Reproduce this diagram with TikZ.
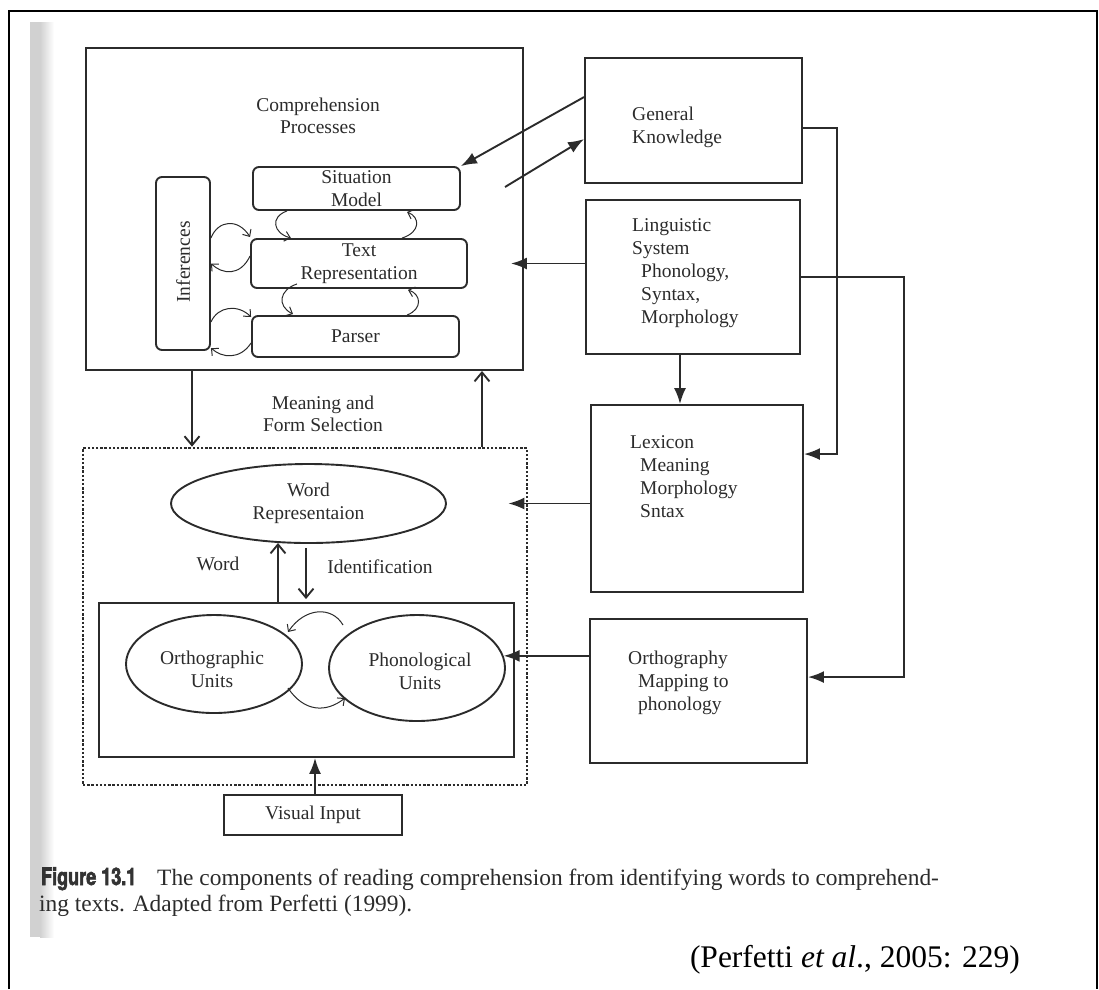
\documentclass[tikz,border=0pt]{standalone}
\usepackage{fontspec}
\setmainfont{Liberation Serif}
\newfontfamily\figfont[FakeStretch=0.75,FakeBold=2.5]{TeX Gyre Heros}
\usetikzlibrary{arrows.meta,calc,shapes.geometric}
\definecolor{ink}{HTML}{2B2B2B}
\tikzset{
  dfont/.style={font=\fontsize{19.5}{22.5}\selectfont},
  box/.style={draw=ink, line width=1.9pt, rectangle, inner sep=0pt, text=ink, dfont, align=center},
  rbox/.style={box, rounded corners=6pt},
  ell/.style={draw=ink, line width=1.9pt, ellipse, inner sep=0pt, text=ink, dfont, align=center},
  lbl/.style={inner sep=0pt, text=ink, dfont, align=center},
  llbl/.style={inner sep=0pt, text=ink, font=\fontsize{19.5}{23}\selectfont, align=left, anchor=west},
  dotbox/.style={draw=ink, line width=2.7pt, dash pattern=on 2.4pt off 1.8pt, rectangle, inner sep=0pt},
  fa/.style={draw=ink, line width=1.9pt, -{Latex[length=16pt,width=12pt]}},
  oa/.style={draw=ink, line width=1.9pt, -{Straight Barb[length=9pt,width=15pt]}},
  ca/.style={draw=ink, line width=1pt, -{Straight Barb[length=5.5pt,width=10pt]}},
}
\begin{document}
\begin{tikzpicture}[x=1pt,y=-1pt]
\useasboundingbox (0,0) rectangle (1099,989);
% page frame and scan strip
\fill[black!18] (30,22) rectangle (40,937);
\shade[left color=black!18, right color=white] (40,22) rectangle (54,937);
\draw[line width=1.5pt] (9,989) -- (9,11) -- (1097,11) -- (1097,989);

% comprehension block
\node[box, minimum width=437pt, minimum height=322pt] (comp) at (304.5,209) {};
\node[lbl] (comptitle) at (318,116) {Comprehension\\Processes};
\node[rbox, minimum width=207pt, minimum height=43pt] (sit) at (356.5,188.5) {Situation\\Model};
\node[rbox, minimum width=216pt, minimum height=49pt] (txt) at (359,263.5) {Text\\Representation};
\node[rbox, minimum width=207pt, minimum height=41pt] (par) at (355.5,336.5) {Parser};
\node[rbox, minimum width=54pt, minimum height=173pt] (inf) at (183,263.5) {};
\node[lbl, rotate=90] (inflbl) at (183,262) {Inferences};

% right-hand boxes
\node[box, minimum width=217pt, minimum height=125pt] (gk) at (693.5,120.5) {};
\node[llbl] (gklbl) at (632,127.5) {General\\Knowledge};
\node[box, minimum width=214pt, minimum height=154pt] (ling) at (693,277) {};
\node[llbl] (linglbl) at (632,273) {Linguistic\\System\\\hspace*{9pt}Phonology,\\\hspace*{9pt}Syntax,\\\hspace*{9pt}Morphology};
\node[box, minimum width=212pt, minimum height=187pt] (lex) at (697,498.5) {};
\node[llbl] (lexlbl) at (630,476.5) {Lexicon\\\hspace*{10pt}Meaning\\\hspace*{10pt}Morphology\\\hspace*{10pt}Sntax};
\node[box, minimum width=217pt, minimum height=144pt] (orth) at (698.5,691) {};
\node[llbl] (orthlbl) at (628,683) {Orthography\\\hspace*{10pt}Mapping to\\\hspace*{10pt}phonology};

% word identification block
\node[lbl] (mfs) at (323,414) {Meaning and\\Form Selection};
\node[dotbox, minimum width=444pt, minimum height=337pt] (dotted) at (305,616.5) {};
\node[ell, minimum width=275pt, minimum height=79pt] (wrep) at (308.5,503.5) {Word\\Representaion};
\node[lbl] (wordlbl) at (218,564) {Word};
\node[lbl] (identlbl) at (380,567) {Identification};
\node[box, minimum width=415pt, minimum height=154pt] (inner) at (306.5,680) {};
\node[ell, minimum width=176pt, minimum height=98pt] (ortho) at (214,664) {};
\node[lbl] (ortholbl) at (212,669.5) {Orthographic\\Units};
\node[ell, minimum width=176pt, minimum height=106pt] (phon) at (417,668) {};
\node[lbl] (phonlbl) at (420,671.5) {Phonological\\Units};
\node[box, minimum width=178pt, minimum height=40pt] (vis) at (313,815) {Visual Input};

% connectors: general knowledge
\draw[fa] ($(gk.north west)+(0,40)$) -- (sit.north east);
\coordinate (gkfree) at (505,187);
\draw[fa] (gkfree) -- ($(gk.north west)+(0,82)$);
\draw[fa] ($(gk.north east)+(0,71)$) -| ($(lex.north east)+(33,50)$) -- ($(lex.north east)+(0,50)$);
% linguistic system
\draw[fa] (ling.west |- txt.east) -- ($(comp.east |- txt.east)+(-13,0)$);
\draw[fa] ($(ling.north east)+(0,78)$) -| ($(orth.north east)+(96,59)$) -- ($(orth.north east)+(0,59)$);
\draw[fa] ($(ling.south)+(-13,0)$) -- ($(lex.north)+(-17,0)$);
% lexicon, orthography
\draw[fa] (lex.west |- wrep.east) -- ($(dotted.east |- wrep.east)+(-20,0)$);
\draw[fa] (orth.west |- phon.8) -- (phon.8);
% between comprehension and word identification
\draw[oa] ([xshift=-112.5pt]comp.south) -- ([xshift=-113pt]dotted.north);
\draw[oa] ([xshift=177pt]dotted.north) -- ([xshift=177.5pt]comp.south);
\draw[oa] ([xshift=-28.5pt]inner.north) -- ([xshift=-30.5pt,yshift=1pt]wrep.south);
\draw[oa] ([xshift=-2.5pt,yshift=-4pt]wrep.south) -- ([xshift=-0.5pt,yshift=3pt]inner.north);
\draw[fa] ([xshift=2pt]vis.north) -- ([xshift=8.5pt]inner.south);

% small curved arrows (yshift is upward on the canvas)
\draw[ca] ([xshift=-69.5pt]sit.south) .. controls (270,217) and (273,233) .. ([xshift=-68pt]txt.north);
\draw[ca] ([xshift=43pt]txt.north) .. controls (421,232) and (420,217) .. ([xshift=50.5pt,yshift=-1pt]sit.south);
\draw[ca] ([xshift=-62pt,yshift=5pt]txt.south) .. controls (279,290) and (277,306) .. ([xshift=-62.5pt,yshift=1pt]par.north);
\draw[ca] ([xshift=51.5pt]par.north) .. controls (423,309) and (421,294) .. ([xshift=49pt,yshift=-1pt]txt.south);
\draw[ca] ([yshift=25.5pt]inf.east) .. controls (218,220) and (238,218) .. ([yshift=26.5pt]txt.west);
\draw[ca] ([yshift=7.5pt]txt.west) .. controls (240,277) and (222,274) .. (inf.east);
\draw[ca] ([yshift=-58.5pt]inf.east) .. controls (218,306) and (238,304) .. ([yshift=19.5pt]par.west);
\draw[ca] ([yshift=-6.5pt]par.west) .. controls (240,360) and (222,358) .. ([yshift=-84.5pt]inf.east);
\draw[ca] ($(phon.center)+(-74,-43)$) .. controls (332,606) and (305,607) .. ($(ortho.center)+(74,-32)$);
\draw[ca] ($(ortho.center)+(74,24)$) .. controls (304,712) and (326,713) .. ($(phon.center)+(-72,30)$);

% caption and source
\node[inner sep=0pt, anchor=base west, text=black!80, font=\figfont\bfseries\fontsize{24}{26}\selectfont] (fignum) at (41,885) {Figure 13.1};
\node[inner sep=0pt, anchor=base west, text=ink, font=\fontsize{23.4}{26}\selectfont] (cap1) at (157,885) {The components of reading comprehension from identifying words to comprehend-};
\node[inner sep=0pt, anchor=base west, text=ink, font=\fontsize{23.4}{26}\selectfont] (cap2) at (39,911) {ing texts. Adapted from Perfetti (1999).};
\node[inner sep=0pt, anchor=base east, text=black, font=\fontsize{31.5}{34}\selectfont] (src) at (1020,967) {(Perfetti \textit{et al}., 2005: 229)};
\end{tikzpicture}
\end{document}
